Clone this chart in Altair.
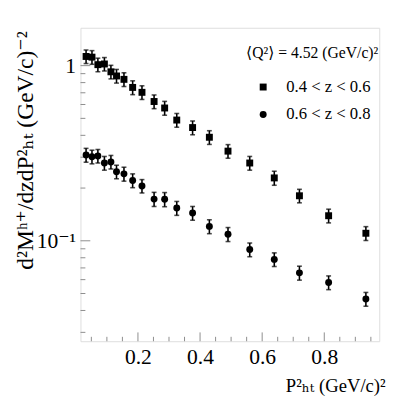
import altair as alt
import pandas as pd

# ---------------- data ----------------
pt2 = [0.033, 0.052, 0.071, 0.092, 0.113, 0.131, 0.155, 0.183, 0.213, 0.252,
       0.286, 0.325, 0.376, 0.430, 0.490, 0.560, 0.639, 0.720, 0.814, 0.934]
low_z = [1.128, 1.118, 1.013, 1.022, 0.922, 0.873, 0.835, 0.751, 0.704, 0.624,
         0.573, 0.489, 0.443, 0.390, 0.325, 0.278, 0.2285, 0.1807, 0.139, 0.1104]
low_err = [0.100, 0.100, 0.090, 0.090, 0.082, 0.078, 0.075, 0.068, 0.063, 0.056,
           0.052, 0.044, 0.040, 0.035, 0.029, 0.025, 0.021, 0.016, 0.0125, 0.010]
high_z = [0.309, 0.302, 0.305, 0.278, 0.282, 0.248, 0.241, 0.221, 0.2055, 0.173,
          0.1725, 0.1537, 0.144, 0.1208, 0.109, 0.0891, 0.0783, 0.0656, 0.0578, 0.0465]
high_err = [0.028, 0.027, 0.027, 0.025, 0.025, 0.022, 0.022, 0.020, 0.018, 0.016,
            0.016, 0.014, 0.013, 0.011, 0.010, 0.008, 0.007, 0.006, 0.0052, 0.0042]
series = ["0.4 < z < 0.6", "0.6 < z < 0.8"]

y_major = [0.1, 1.0]
y_minor = [0.03, 0.04, 0.05, 0.06, 0.07, 0.08, 0.09, 0.2, 0.3, 0.4, 0.5, 0.6, 0.7, 0.8, 0.9]
x_major = [0.2, 0.4, 0.6, 0.8]
x_minor = [0.05, 0.1, 0.15, 0.25, 0.3, 0.35, 0.45, 0.5, 0.55, 0.65, 0.7, 0.75, 0.85, 0.9, 0.95]

legend_title = "⟨Q²⟩ = 4.52 (GeV/c)²"
x_title = "P²ₕₜ (GeV/c)²"
y_title = "d²Mʰ⁺/dzdP²ₕₜ (GeV/c)⁻²"

# ---------------- tables ----------------
rows = []
for s, vals, errs in [(series[0], low_z, low_err), (series[1], high_z, high_err)]:
    for x, v, e in zip(pt2, vals, errs):
        rows.append({"x": x, "v": v, "lo": v - e, "hi": v + e, "series": s})
df = pd.DataFrame(rows)

FONT = "'Liberation Serif', 'Times New Roman', 'DejaVu Serif', serif"
GRAY = "#8c8c8c"
W, H = 305, 320

xscale = alt.Scale(domain=[0.015, 0.977], zero=False, nice=False)
yscale = alt.Scale(type="log", domain=[0.0267, 1.645], nice=False)

xaxis = alt.Axis(values=x_major, format=".1f", ticks=False, tickSize=0, domain=False, grid=False,
                 labelFont=FONT, labelFontSize=22, labelColor="black", labelPadding=6,
                 title=x_title, titleFont=FONT, titleFontSize=19, titleFontWeight="normal",
                 titleColor="black", titleX=W + 6, titleY=51, titleAlign="right",
                 titleBaseline="alphabetic", titleAnchor="end")
yaxis = alt.Axis(values=y_major, labelExpr="datum.value == 1 ? '1' : '10⁻¹'",
                 ticks=False, tickSize=0, domain=False, grid=False,
                 labelFont=FONT, labelFontSize=22, labelColor="black", labelPadding=5,
                 title=y_title, titleFont=FONT, titleFontSize=24, titleFontWeight="normal",
                 titleColor="black", titleAngle=270, titleX=-49, titleY=3,
                 titleAlign="right", titleBaseline="alphabetic", titleAnchor="end")

X = alt.X("x:Q", scale=xscale, axis=xaxis)

base = alt.Chart(df)

bars = base.mark_rule(color="black", strokeWidth=1.6).encode(
    x=X, y=alt.Y("lo:Q", scale=yscale, axis=yaxis), y2="hi:Q")
cap_lo = base.mark_tick(orient="horizontal", size=5, thickness=1.6, color="black").encode(
    x=X, y=alt.Y("lo:Q", scale=yscale, axis=yaxis))
cap_hi = base.mark_tick(orient="horizontal", size=5, thickness=1.6, color="black").encode(
    x=X, y=alt.Y("hi:Q", scale=yscale, axis=yaxis))

points = base.mark_point(filled=True, color="black", opacity=1, size=50).encode(
    x=X,
    y=alt.Y("v:Q", scale=yscale, axis=yaxis),
    shape=alt.Shape("series:N",
                    scale=alt.Scale(domain=series, range=["square", "circle"]),
                    legend=alt.Legend(title=None, orient="none", legendX=178, legendY=52,
                                      labelFont=FONT, labelFontSize=17, labelColor="black",
                                      symbolFillColor="black", symbolStrokeColor="black",
                                      symbolSize=50, labelOffset=15, rowPadding=10,
                                      padding=0, symbolStrokeWidth=0)),
)

# inward ROOT-style ticks
def ytick_layer(vals, length):
    return alt.Chart(pd.DataFrame({"t": vals})).mark_rule(color=GRAY, strokeWidth=1).encode(
        y=alt.Y("t:Q", scale=yscale, axis=yaxis), x=alt.value(0), x2=alt.value(length))

def xtick_layer(vals, length):
    return alt.Chart(pd.DataFrame({"t": vals})).mark_rule(color=GRAY, strokeWidth=1).encode(
        x=alt.X("t:Q", scale=xscale, axis=xaxis), y=alt.value(H), y2=alt.value(H - length))

legend_text = alt.Chart(pd.DataFrame({"t": [legend_title]})).mark_text(
    font=FONT, fontSize=16, align="right", baseline="middle", color="black").encode(
    text="t:N", x=alt.value(304), y=alt.value(26))

chart = alt.layer(
    ytick_layer(y_major, 10), ytick_layer(y_minor, 5),
    xtick_layer(x_major, 9), xtick_layer(x_minor, 4.5),
    bars, cap_lo, cap_hi, points, legend_text,
).properties(
    width=W, height=H,
    padding={"left": 74, "top": 16, "right": 12, "bottom": 65},
    autosize="none",
).configure_view(
    stroke=GRAY, strokeWidth=1
).configure(font=FONT, background="white")

chart.save("out.html", embed_options={"renderer": "svg", "actions": False})
